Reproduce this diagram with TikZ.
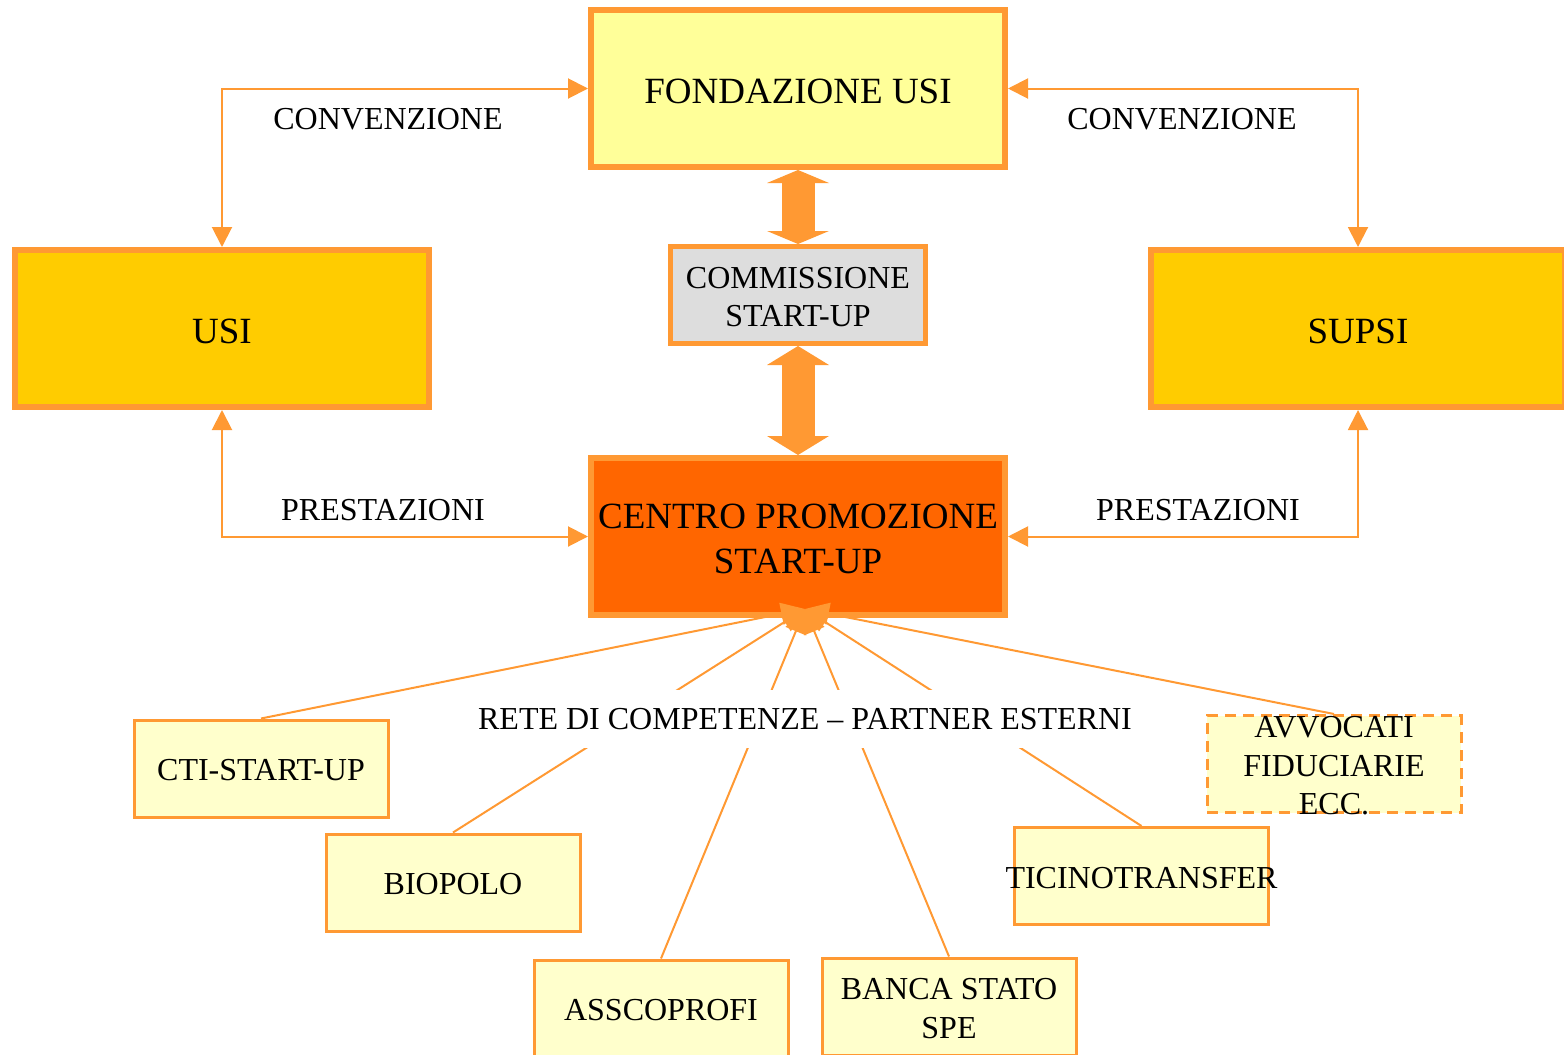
\documentclass[tikz,border=0pt]{standalone}
\usepackage{fontspec}
\setmainfont{Liberation Serif}
\usetikzlibrary{arrows.meta}
\definecolor{orng}{HTML}{FF9933}
\definecolor{paleyel}{HTML}{FFFF99}
\definecolor{goldyel}{HTML}{FFCC00}
\definecolor{deeporng}{HTML}{FF6600}
\definecolor{lgray}{HTML}{DDDDDD}
\definecolor{cream}{HTML}{FFFFCC}
\tikzset{
  bigfont/.style={font=\fontsize{37}{45}\selectfont},
  smallfont/.style={font=\fontsize{32}{38.5}\selectfont},
  btext/.style={label={[bigfont,align=center,inner sep=0pt,yshift=-2.5pt]center:#1}},
  stext/.style={label={[smallfont,align=center,inner sep=0pt,yshift=-2pt]center:#1}},
  bigbox/.style={draw=orng, line width=6pt, minimum width=414pt, minimum height=157pt,
    inner sep=0pt},
  commbox/.style={draw=orng, line width=5pt, fill=lgray, minimum width=255pt, minimum height=97pt,
    inner sep=0pt},
  smallbox/.style={draw=orng, line width=3pt, fill=cream, minimum width=254pt, minimum height=97pt,
    inner sep=0pt},
  conn/.style={draw=orng, line width=2pt, {Triangle[length=20pt,width=20pt]}-{Triangle[length=20pt,width=20pt]}},
  fanline/.style={draw=orng, line width=2pt, -{Triangle[length=24pt,width=22pt]}},
  bigarrowA/.style={draw=orng, line width=33pt,
    {Triangle[length=13pt,width=62pt,line width=0pt]}-{Triangle[length=13pt,width=62pt,line width=0pt]}},
  bigarrowB/.style={draw=orng, line width=33pt,
    {Triangle[length=19pt,width=62pt,line width=0pt]}-{Triangle[length=19pt,width=62pt,line width=0pt]}},
  lbl/.style={smallfont, inner sep=0pt}
}
\begin{document}
\begin{tikzpicture}[x=1pt,y=-1pt]
\useasboundingbox (0,0) rectangle (1564,1055);
\clip (0,0) rectangle (1564,1055);

% main boxes
\node[bigbox, fill=paleyel, btext={FONDAZIONE USI}] (fond) at (798,88.5) {};
\node[bigbox, fill=goldyel, btext={USI}] (usi) at (222,328.5) {};
\node[bigbox, fill=goldyel, btext={SUPSI}] (supsi) at (1358,328.5) {};
\node[commbox, stext={COMMISSIONE\\START-UP}] (comm) at (798,295) {};
\node[bigbox, fill=deeporng, btext={CENTRO PROMOZIONE\\START-UP}] (centro) at (798,536.5) {};

% big double arrows
\draw[bigarrowA] (fond.south) -- (comm.north);
\draw[bigarrowB] (comm.south) -- (centro.north);

% small boxes
\node[smallbox, stext={CTI-START-UP}] (cti) at (261,768.5) {};
\node[smallbox, stext={BIOPOLO}] (bio) at (453,882.5) {};
\node[smallbox, stext={ASSCOPROFI}] (assc) at (661,1008.5) {};
\node[smallbox, stext={BANCA STATO\\SPE}] (banca) at (949,1006.5) {};
\node[smallbox, stext={TICINOTRANSFER}] (ticino) at (1141.5,876) {};
\node[smallbox, dashed, dash pattern=on 11pt off 7pt,
  stext={AVVOCATI\\FIDUCIARIE\\ECC.}] (avv) at (1334,764) {};

% thin connectors
\draw[conn] (fond.west) -| (usi.north);
\draw[conn] (fond.east) -| (supsi.north);
\draw[conn] (usi.south) |- (centro.west);
\draw[conn] (supsi.south) |- (centro.east);
\node[lbl] (conv1) at (388,119) {CONVENZIONE};
\node[lbl] (conv2) at (1182,119) {CONVENZIONE};
\node[lbl] (prest1) at (383,510) {PRESTAZIONI};
\node[lbl] (prest2) at (1198,510) {PRESTAZIONI};

% fan of partner lines
\coordinate (hub) at (805,609);
\foreach \n in {cti,bio,assc,banca,ticino,avv}
  \draw[fanline] (\n.north) -- (hub);

\node[lbl, fill=white, inner xsep=4pt, minimum height=58pt] (rete) at (805,719)
  {RETE DI COMPETENZE -- PARTNER ESTERNI};
\end{tikzpicture}
\end{document}
